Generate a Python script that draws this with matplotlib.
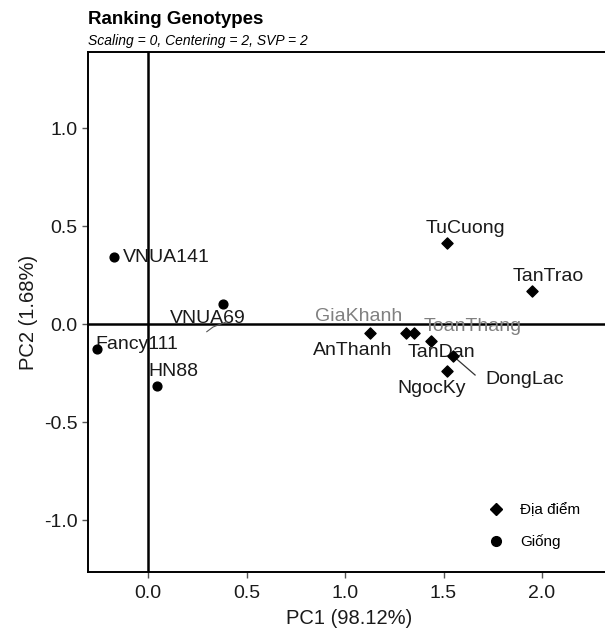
import matplotlib.pyplot as plt
from matplotlib.lines import Line2D

plt.rcParams['font.family'] = ['Liberation Sans', 'DejaVu Sans']

# Giống (genotypes)
giong = ["VNUA141", "VNUA69", "Fancy111", "HN88"]
giong_x = [-0.171, 0.379, -0.260, 0.047]
giong_y = [0.340, 0.102, -0.128, -0.315]

# Địa điểm (locations)
diadiem = ["TuCuong", "TanTrao", "AnThanh", "GiaKhanh", "ToanThang", "TanDan", "DongLac", "NgocKy"]
diadiem_x = [1.516, 1.951, 1.127, 1.310, 1.350, 1.437, 1.547, 1.516]
diadiem_y = [0.415, 0.170, -0.044, -0.044, -0.044, -0.088, -0.163, -0.238]

# label offsets from the point (data units) and alignment
giong_lab = {"VNUA141": (0.043, 0.0, "left"), "VNUA69": (-0.077, -0.076, "center"),
             "Fancy111": (-0.006, 0.026, "left"), "HN88": (0.081, 0.072, "center")}
dd_lab = {"TuCuong": (0.095, 0.075), "TanTrao": (0.082, 0.071),
          "AnThanh": (-0.091, -0.089), "GiaKhanh": (-0.242, 0.080),
          "ToanThang": (0.300, 0.034), "TanDan": (0.050, -0.058),
          "DongLac": (0.367, -0.118), "NgocKy": (-0.079, -0.090)}
gray_labels = ["GiaKhanh", "ToanThang"]

fig = plt.figure(figsize=(6.05, 6.29), dpi=100)
# axes run slightly past the right edge, as in the cropped original
ax = fig.add_axes([88 / 605, 57 / 629, 523 / 605, 520 / 629])

ax.axhline(0, color='black', lw=1.8, zorder=1)
ax.axvline(0, color='black', lw=1.8, zorder=1)

ax.scatter(diadiem_x, diadiem_y, marker='D', s=32, color='black', zorder=3)
ax.scatter(giong_x, giong_y, marker='o', s=40, color='black', zorder=3)

txt_col = '#1a1a1a'
for name, x, y in zip(giong, giong_x, giong_y):
    dx, dy, ha = giong_lab[name]
    ax.text(x + dx, y + dy, name, fontsize=14, ha=ha, va='center', color=txt_col, zorder=2)
# short leader under the VNUA69 label
ax.plot([0.298, 0.330, 0.399], [-0.039, -0.015, 0.012], color='#555555', lw=0.8, zorder=2)

for name, x, y in zip(diadiem, diadiem_x, diadiem_y):
    dx, dy = dd_lab[name]
    c = '#808080' if name in gray_labels else txt_col
    ax.text(x + dx, y + dy, name, fontsize=14, ha='center', va='center', color=c, zorder=2)
# leader line for DongLac
ax.plot([1.567, 1.660], [-0.179, -0.260], color='#333333', lw=0.9, zorder=2)

ax.set_xlim(-0.305, 2.35)
ax.set_ylim(-1.265, 1.388)
ax.set_xticks([0.0, 0.5, 1.0, 1.5, 2.0])
ax.set_yticks([-1.0, -0.5, 0.0, 0.5, 1.0])
ax.set_xticklabels(["0.0", "0.5", "1.0", "1.5", "2.0"])
ax.set_yticklabels(["-1.0", "-0.5", "0.0", "0.5", "1.0"])
ax.tick_params(labelsize=14, length=4.5, width=1, color='#555555', labelcolor=txt_col)
ax.tick_params(axis='x', pad=5)
ax.tick_params(axis='y', pad=3)
ax.set_xlabel("PC1 (98.12%)", fontsize=14.5, color=txt_col, labelpad=5)
ax.set_ylabel("PC2 (1.68%)", fontsize=14.5, color=txt_col, labelpad=4)

for s in ['left', 'top', 'bottom', 'right']:
    ax.spines[s].set_linewidth(1.4)

fig.text(88 / 605, 1 - 19 / 629, "Ranking Genotypes", fontsize=13.5, fontweight='bold', va='center')
fig.text(88 / 605, 1 - 41 / 629, "Scaling = 0, Centering = 2, SVP = 2", fontsize=10, style='italic', va='center')

handles = [Line2D([], [], marker='D', color='black', ls='none', markersize=6),
           Line2D([], [], marker='o', color='black', ls='none', markersize=7)]
ax.legend(handles, ["Địa điểm", "Giống"], loc='upper left',
          bbox_to_anchor=((488 - 88) / 523, (572 - 503) / 520), borderaxespad=0,
          borderpad=0, frameon=False, fontsize=11, labelspacing=1.15,
          handlelength=1.0, handletextpad=1.1)

fig.savefig("out.png", dpi=100)
